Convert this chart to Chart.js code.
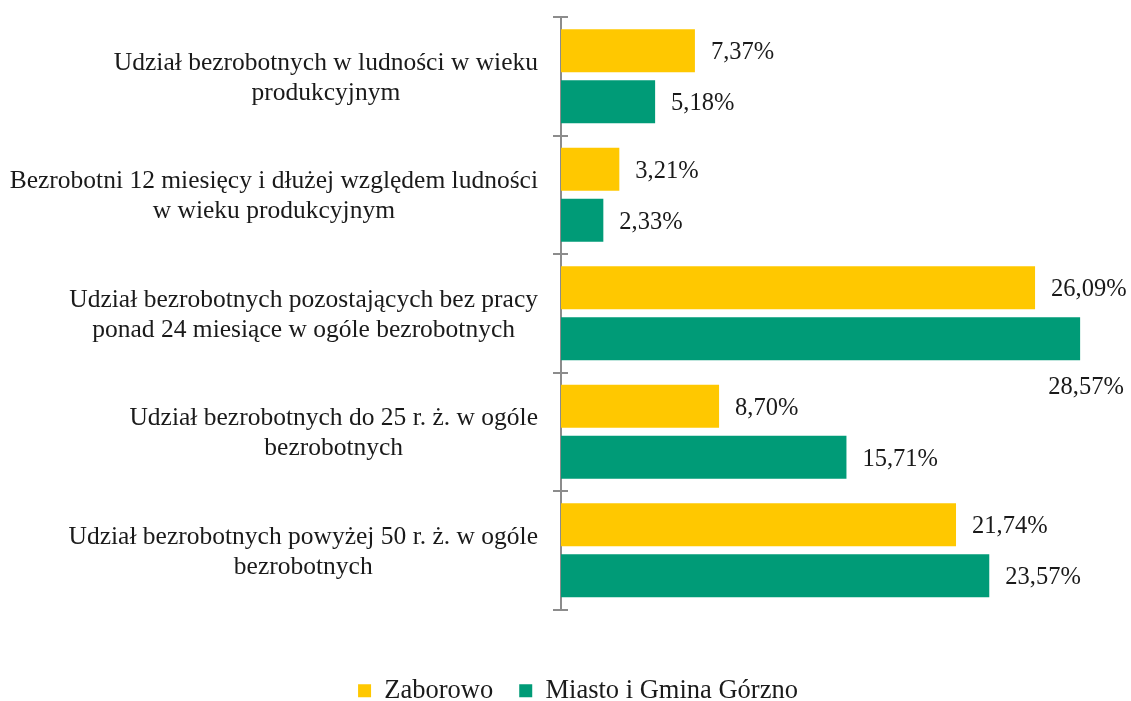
<!DOCTYPE html>
<html lang="pl">
<head>
<meta charset="utf-8">
<title>Bezrobocie – Zaborowo i Górzno</title>
<script src="https://cdn.jsdelivr.net/npm/chart.js@4/dist/chart.umd.min.js"></script>
<style>
  html, body { margin: 0; padding: 0; background: #fff; }
  #wrap { width: 1131px; height: 701px; position: relative; }
</style>
</head>
<body>
<div id="wrap"><canvas id="chart"></canvas></div>
<script>
// kategorie (każda w dwóch liniach, jak na wykresie)
const categories = [
  ['Udział bezrobotnych w ludności w wieku', 'produkcyjnym'],
  ['Bezrobotni 12 miesięcy i dłużej względem ludności', 'w wieku produkcyjnym'],
  ['Udział bezrobotnych pozostających bez pracy', 'ponad 24 miesiące w ogóle bezrobotnych'],
  ['Udział bezrobotnych do 25 r. ż. w ogóle', 'bezrobotnych'],
  ['Udział bezrobotnych powyżej 50 r. ż. w ogóle', 'bezrobotnych']
];
const seriesNames = ['Zaborowo', 'Miasto i Gmina Górzno'];
const zaborowo = [7.37, 3.21, 26.09, 8.70, 21.74];
const gorzno = [5.18, 2.33, 28.57, 15.71, 23.57];

const FONT = '"Liberation Serif", "DejaVu Serif", serif';
const YELLOW = '#ffc800';
const GREEN = '#009b77';
const AXIS = '#8c8c8c';
const TEXT = '#1a1a1a';

function pct(v) {
  return v.toFixed(2).replace('.', ',') + '%';
}

// etykiety kategorii: blok wyrównany do prawej, linie wyśrodkowane
const categoryLabels = {
  id: 'categoryLabels',
  afterDraw(chart) {
    const ctx = chart.ctx;
    const y = chart.scales.y;
    ctx.save();
    ctx.font = '25.5px ' + FONT;
    ctx.fillStyle = TEXT;
    ctx.textAlign = 'center';
    ctx.textBaseline = 'middle';
    const right = chart.chartArea.left - 23;
    const lh = 30;
    categories.forEach((lines, i) => {
      const cy = y.getPixelForValue(i) + 2;
      const w = Math.max(...lines.map(l => ctx.measureText(l).width));
      const cx = right - w / 2;
      lines.forEach((l, k) => {
        ctx.fillText(l, cx, cy + (k - (lines.length - 1) / 2) * lh);
      });
    });
    ctx.restore();
  }
};

// wartości przy słupkach; gdy brak miejsca – pod słupkiem
const valueLabels = {
  id: 'valueLabels',
  afterDatasetsDraw(chart) {
    const ctx = chart.ctx;
    ctx.save();
    ctx.font = '24.5px ' + FONT;
    ctx.fillStyle = TEXT;
    ctx.textBaseline = 'middle';
    chart.data.datasets.forEach((ds, di) => {
      chart.getDatasetMeta(di).data.forEach((bar, i) => {
        const txt = pct(ds.data[i]);
        const w = ctx.measureText(txt).width;
        if (bar.x + 16 + w <= chart.width) {
          ctx.textAlign = 'left';
          ctx.fillText(txt, bar.x + 16, bar.y + 2);
        } else {
          ctx.textAlign = 'center';
          ctx.fillText(txt, Math.min(bar.x + 6, chart.width - w / 2 - 5), bar.y + 49);
        }
      });
    });
    ctx.restore();
  }
};

// krótkie kreski podziałki po wewnętrznej stronie osi
const innerTicks = {
  id: 'innerTicks',
  afterDraw(chart) {
    const ctx = chart.ctx;
    const y = chart.scales.y;
    const x0 = chart.chartArea.left;
    ctx.save();
    ctx.strokeStyle = AXIS;
    ctx.lineWidth = 2;
    for (let i = 0; i <= categories.length; i++) {
      const py = Math.round(y.getPixelForValue(i - 0.5));
      ctx.beginPath();
      ctx.moveTo(x0, py);
      ctx.lineTo(x0 + 7, py);
      ctx.stroke();
    }
    ctx.restore();
  }
};

new Chart(document.getElementById('chart'), {
  type: 'bar',
  data: {
    labels: categories,
    datasets: [
      { label: seriesNames[0], data: zaborowo, backgroundColor: YELLOW },
      { label: seriesNames[1], data: gorzno, backgroundColor: GREEN }
    ]
  },
  options: {
    indexAxis: 'y',
    responsive: true,
    maintainAspectRatio: false,
    animation: false,
    categoryPercentage: 0.86,
    barPercentage: 0.84,
    layout: { padding: { top: 17, right: 0, left: 25, bottom: -13 } },
    scales: {
      x: {
        // oś niewidoczna, zostawia tylko odstęp nad legendą
        display: true,
        min: 0,
        max: 31.37,
        afterFit(scale) { scale.height = 42; },
        ticks: { display: false },
        grid: { display: false, drawTicks: false },
        border: { display: false }
      },
      y: {
        afterFit(scale) { scale.width = 536; },
        ticks: { display: false },
        grid: {
          offset: true,
          drawOnChartArea: false,
          drawTicks: true,
          tickLength: 8,
          color: AXIS,
          lineWidth: 2
        },
        border: { display: true, color: AXIS, width: 2 }
      }
    },
    plugins: {
      tooltip: { enabled: false },
      legend: {
        position: 'bottom',
        labels: {
          boxWidth: 13,
          boxHeight: 13,
          padding: 26,
          color: TEXT,
          font: { family: FONT, size: 26.5 }
        }
      }
    }
  },
  plugins: [categoryLabels, valueLabels, innerTicks]
});
</script>
</body>
</html>
